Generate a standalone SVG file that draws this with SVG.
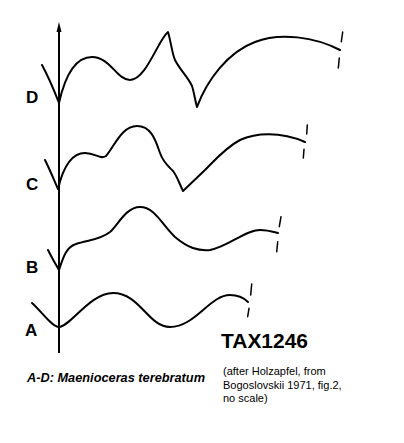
<svg xmlns="http://www.w3.org/2000/svg" width="404" height="443" viewBox="0 0 404 443">
<style>
.c{fill:none;stroke:#000;stroke-width:2;stroke-linejoin:round;stroke-linecap:round}
.t{fill:none;stroke:#000;stroke-width:1.5;stroke-linecap:round}
.lab{font-family:"Liberation Sans",Arial,sans-serif;font-weight:bold;font-size:17px;fill:#000}
.note{font-family:"Liberation Sans",Arial,sans-serif;font-size:11px;fill:#000}
</style>
<rect width="404" height="443" fill="#fff"/>
<g id="axis">
<line x1="59" y1="28" x2="59" y2="353" stroke="#000" stroke-width="2"/>
<polygon points="59,22 56.5,32 61.5,32" fill="#000"/>
</g>
<g id="curveD">
<path class="c" d="M42,65 C48,76 54,90 59,103 C63,85 72,57 92,57 C110,57 117,80 130,80 C146,80 158,40 168,32 C171,42 172,53 175,60 C180,70 188,77 192,86 C194,92 195,100 197,107 C207,80 228,52 255,42 C280,32 315,37 340,50"/>
<line class="t" x1="342.7" y1="32" x2="341.3" y2="41.7"/>
<line class="t" x1="339.3" y1="58" x2="338.3" y2="68"/>
<text class="lab" x="26" y="103">D</text>
</g>
<g id="curveC">
<path class="c" d="M45,160 C50,170 54,180 58,189 C62,172 70,153 85,153 C96,153 100,160 106,156 C115,145 122,126 137,126 C152,126 156,142 160,153 C163,162 168,166 173,171 C177,176 180,185 183,191 L205,170 C215,160 225,148 240,140 C255,133 280,131 305,142"/>
<line class="t" x1="307.3" y1="125" x2="306.7" y2="134"/>
<line class="t" x1="304" y1="149.3" x2="303.3" y2="158"/>
<text class="lab" x="26" y="190">C</text>
</g>
<g id="curveB">
<path class="c" d="M48,250 C52,258 56,265 59,270 C63,258 66,247 76,244 C88,240 100,240 110,232 C118,225 126,207 140,207 C155,207 162,225 175,237 C188,248 198,251 210,250 C228,247 245,230 260,230 C268,230 274,232 278,233"/>
<line class="t" x1="281" y1="216.7" x2="279.3" y2="226.7"/>
<line class="t" x1="277.7" y1="241.7" x2="276.7" y2="251.7"/>
<text class="lab" x="26" y="273">B</text>
</g>
<g id="curveA">
<path class="c" d="M32,303 C42,312 52,327 59,327 C70,327 90,293 113,293 C140,293 148,327 170,327 C195,327 210,295 230,295 C238,295 244,298 248,302"/>
<line class="t" x1="251.7" y1="284" x2="250.7" y2="295"/>
<line class="t" x1="249" y1="308.3" x2="247.7" y2="316.7"/>
<text class="lab" x="25" y="336">A</text>
</g>
<g id="captions">
<text x="27" y="382" font-family="Liberation Sans,Arial,sans-serif" font-weight="bold" font-style="italic" font-size="12.5" textLength="178" lengthAdjust="spacingAndGlyphs">A-D: Maenioceras terebratum</text>
<text x="221" y="348" font-family="Liberation Sans,Arial,sans-serif" font-weight="bold" font-size="20" textLength="87" lengthAdjust="spacingAndGlyphs">TAX1246</text>
<text class="note" x="223" y="374.5">(after Holzapfel, from</text>
<text class="note" x="223" y="389">Bogoslovskii 1971, fig.2,</text>
<text class="note" x="223" y="402">no scale)</text>
</g>
</svg>
